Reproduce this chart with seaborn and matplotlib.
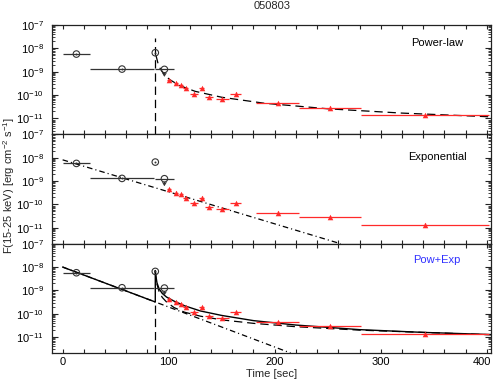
import numpy as np
import pandas as pd
import matplotlib
matplotlib.use("Agg")
import matplotlib.pyplot as plt
import matplotlib.transforms as mtransforms
from matplotlib.ticker import LogLocator, MultipleLocator, NullFormatter, FixedLocator
import seaborn as sns

# ---------------- data ----------------
title = "050803"
panel_labels = ["Power-law", "Exponential", "Pow+Exp"]
panel_label_colors = ["black", "black", "#3030ff"]

# BAT points (open circles)
bat_t = [13.0, 56.0, 87.4]
bat_terr = [13.0, 30.0, 0.0]
bat_f = [5.7e-9, 1.3e-9, 6.5e-9]

# BAT upper limit
ul_t = [96.0]
ul_terr = [9.0]
ul_f = [1.26e-9]
ul_f_end = [6.0e-10]

# XRT points (red)
xrt_t = [100.3, 106.6, 111.6, 116.0, 123.9, 131.0, 138.0, 150.6, 163.2, 202.8, 252.2, 341.8]
xrt_terr = [2.0, 2.0, 2.0, 2.0, 4.0, 2.5, 4.0, 6.0, 5.0, 20.0, 29.5, 60.0]
xrt_f = [4.4e-10, 3.2e-10, 2.7e-10, 1.95e-10, 1.17e-10, 1.95e-10, 7.9e-11, 6.6e-11,
         1.17e-10, 4.4e-11, 2.9e-11, 1.35e-11]
xrt_ferr = [5e-11, 4e-11, 3e-11, 2.5e-11, 1.5e-11, 2.5e-11, 1e-11, 9e-12,
            1.5e-11, 6e-12, 4e-12, 2e-12]

# trigger-like vertical marker
t_vert = 87.2

# model curves
pl_t = [88, 90, 92, 96, 101, 110, 125, 150, 190, 250, 320, 405]
pl_f = [5.1e-9, 2.24e-9, 1.38e-9, 7.4e-10, 4.6e-10, 2.6e-10, 1.45e-10, 8.1e-11,
        4.5e-11, 2.6e-11, 1.7e-11, 1.17e-11]

ex_t = [0, 262]
ex_f = [8.1e-9, 2.1e-12]

b_ex_t = [0, 215]
b_ex_f = [1.0e-8, 2.1e-12]

b_pl_t = [87.4, 88, 89, 91, 94, 98, 105, 115, 130, 150, 180, 220, 280, 340, 405]
b_pl_f = [7.1e-9, 3.5e-9, 1.8e-9, 8.9e-10, 5.0e-10, 3.2e-10, 1.86e-10, 1.17e-10,
          7.9e-11, 5.5e-11, 3.9e-11, 2.8e-11, 2.0e-11, 1.6e-11, 1.26e-11]

b_tot_t = [0, 87.4, 87.4, 88, 89, 91, 94, 98, 105, 115, 130, 150, 180, 220, 280, 340, 405]
b_tot_f = [1.0e-8, 3.2e-10, 7.1e-9, 4.0e-9, 2.1e-9, 1.17e-9, 7.4e-10, 5.2e-10, 3.5e-10,
           2.2e-10, 1.32e-10, 8.5e-11, 5.1e-11, 3.3e-11, 2.1e-11, 1.6e-11, 1.29e-11]

x_ticks = [0, 100, 200, 300, 400]
y_ticks = [1e-11, 1e-10, 1e-9, 1e-8, 1e-7]
y_ticklabels = [r"$10^{-11}$", r"$10^{-10}$", r"$10^{-9}$", r"$10^{-8}$", r"$10^{-7}$"]

# ---------------- style ----------------
sns.set_style("ticks")
plt.rcParams["font.family"] = ["Liberation Sans", "DejaVu Sans"]
plt.rcParams["mathtext.default"] = "regular"
plt.rcParams["lines.scale_dashes"] = False

FS = 8
RED = "#ff2a2a"
DASH = (0, (6, 3.5))
DASHDOT = (0, (4, 2.2, 0.8, 2.2))

fig, axes = plt.subplots(3, 1, sharex=True, figsize=(4.94, 3.82), dpi=100)
fig.subplots_adjust(left=0.1053, right=0.9939, top=0.9346, bottom=0.0759, hspace=0)


def draw_points(ax):
    # BAT points
    ax.errorbar(bat_t, bat_f, xerr=bat_terr, fmt="none", ecolor="#333333",
                elinewidth=0.9, capsize=0, zorder=3)
    sns.scatterplot(x=bat_t, y=bat_f, ax=ax, marker="o", s=22, facecolor="none",
                    edgecolor="#333333", linewidth=0.8, zorder=4)
    sns.scatterplot(x=bat_t, y=bat_f, ax=ax, marker="o", s=2, color="#333333",
                    linewidth=0, zorder=4)
    # upper limit
    ax.errorbar(ul_t, ul_f, xerr=ul_terr, fmt="none", ecolor="#333333",
                elinewidth=0.9, capsize=0, zorder=3)
    sns.scatterplot(x=ul_t, y=ul_f, ax=ax, marker="o", s=22, facecolor="none",
                    edgecolor="#333333", linewidth=0.8, zorder=4)
    for t, f0, f1 in zip(ul_t, ul_f, ul_f_end):
        ax.annotate("", xy=(t, f1), xytext=(t, f0),
                    arrowprops=dict(arrowstyle="->,head_length=0.2,head_width=0.12",
                                    color="#333333", lw=0.8, shrinkA=2.5, shrinkB=0),
                    zorder=4)
    # XRT points
    ax.errorbar(xrt_t, xrt_f, xerr=xrt_terr, yerr=xrt_ferr, fmt="none",
                ecolor=RED, elinewidth=0.9, capsize=0, zorder=3)
    sns.scatterplot(x=xrt_t, y=xrt_f, ax=ax, marker="^", s=16, color=RED,
                    linewidth=0, zorder=4)


def line(ax, t, f, ls, lw=0.9):
    df = pd.DataFrame({"t": t, "f": f})
    sns.lineplot(data=df, x="t", y="f", ax=ax, sort=False, estimator=None,
                 color="black", linewidth=lw, linestyle=ls, zorder=2)


for ax in axes:
    ax.set_yscale("log")

# top panel: power law
ax = axes[0]
line(ax, [t_vert, t_vert], [2.1e-12, 2.8e-8], DASH)
line(ax, pl_t, pl_f, DASH)
draw_points(ax)

# middle: exponential
ax = axes[1]
line(ax, ex_t, ex_f, DASHDOT)
draw_points(ax)

# bottom: pow + exp
ax = axes[2]
line(ax, [t_vert, t_vert], [2.1e-12, 3.2e-10], DASH)
line(ax, b_ex_t, b_ex_f, DASHDOT)
line(ax, b_pl_t, b_pl_f, DASH)
line(ax, b_tot_t, b_tot_f, "-", lw=1.0)
draw_points(ax)

label_y = [0.835, 0.79, 0.853]
for ax, lab, col, ly in zip(axes, panel_labels, panel_label_colors, label_y):
    ax.set_xlim(-10, 404)
    ax.set_ylim(2.1e-12, 1e-7)
    ax.yaxis.set_major_locator(FixedLocator(y_ticks))
    ax.set_yticklabels(y_ticklabels)
    ax.yaxis.set_minor_locator(LogLocator(base=10, subs=np.arange(2, 10) * 1.0, numticks=20))
    ax.yaxis.set_minor_formatter(NullFormatter())
    ax.xaxis.set_major_locator(FixedLocator(x_ticks))
    ax.xaxis.set_minor_locator(MultipleLocator(20))
    ax.tick_params(axis="both", which="both", direction="in", top=True, right=True,
                   colors="#222222", labelcolor="black", labelsize=FS)
    ax.tick_params(axis="y", which="major", length=4.5, width=0.8, pad=6)
    ax.tick_params(axis="y", which="minor", length=2.2, width=0.6)
    ax.tick_params(axis="x", which="both", length=3, width=0.8, pad=3)
    for sp in ax.spines.values():
        sp.set_color("#222222")
        sp.set_linewidth(0.9)
    ax.set_xlabel("")
    ax.set_ylabel("")
    ax.text(0.877, ly, lab, transform=ax.transAxes, ha="center", va="center",
            fontsize=FS, color=col)

axes[2].set_xlabel("Time [sec]", fontsize=FS, labelpad=1)
axes[2].set_xticklabels([str(v) for v in x_ticks])
# keep the last x tick label inside the figure (as in the reference)
last_lbl = axes[2].get_xticklabels()[-1]
last_lbl.set_transform(last_lbl.get_transform() +
                       mtransforms.ScaledTranslation(-5 / 100, 0, fig.dpi_scale_trans))

fig.text(0.551, 0.984, title, ha="center", va="center", fontsize=FS)
fig.text(0.018, 0.513, r"F(15-25 keV) [erg cm$^{-2}$ s$^{-1}$]", rotation=90,
         ha="center", va="center", fontsize=FS)

fig.savefig("out.png", dpi=100)
